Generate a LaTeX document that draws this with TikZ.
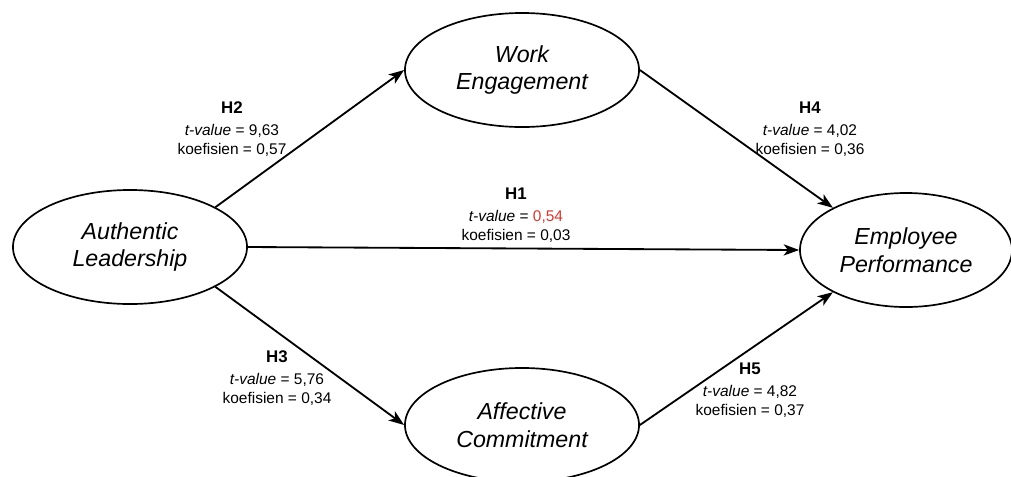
\documentclass[tikz,border=0pt]{standalone}
\usepackage{fontspec}
\setmainfont{Liberation Sans}
\definecolor{pathred}{RGB}{215,55,45}
\usetikzlibrary{arrows.meta,shapes.geometric}

\begin{document}
\begin{tikzpicture}[x=0.025cm,y=-0.025cm,
  construct/.style={draw,ellipse,line width=1.2pt,minimum width=5.85cm,minimum height=2.85cm,
    align=center,inner sep=1pt,font=\fontsize{16.5}{19.5}\selectfont\itshape},
  hyplabel/.style={align=center,inner sep=1pt,font=\fontsize{11}{13.5}\selectfont},
  pathline/.style={line width=1.3pt,-{Stealth[length=11pt,width=8pt,inset=3pt]}}
]
  \useasboundingbox (0,0) rectangle (1011,476);

  % latent constructs
  \node[construct] (al) at (130,247) {Authentic\\Leadership};
  \node[construct] (we) at (522,70) {Work\\Engagement};
  \node[construct] (ac) at (522,425) {Affective\\Commitment};
  \node[construct,minimum width=5.3cm] (ep) at (906,250) {Employee\\Performance};

  % structural paths
  \draw[pathline] (al.25) -- (we.west);
  \draw[pathline] (al.-25) -- (ac.west);
  \draw[pathline] (al.east) -- (ep.west);
  \draw[pathline] (we.east) -- (ep.150);
  \draw[pathline] (ac.east) -- (ep.210);

  % hypothesis results
  \node[hyplabel] (lblh2) at (232,129) {{\fontsize{12}{14}\selectfont\bfseries H2}\\[2pt]
    \textit{t-value} = 9,63\\ koefisien = 0,57};
  \node[hyplabel] (lblh1) at (516,215) {{\fontsize{12}{14}\selectfont\bfseries H1}\\[2pt]
    \textit{t-value} = \textcolor{pathred}{0,54}\\ koefisien = 0,03};
  \node[hyplabel] (lblh4) at (810,129) {{\fontsize{12}{14}\selectfont\bfseries H4}\\[2pt]
    \textit{t-value} = 4,02\\ koefisien = 0,36};
  \node[hyplabel] (lblh3) at (277,378) {{\fontsize{12}{14}\selectfont\bfseries H3}\\[2pt]
    \textit{t-value} = 5,76\\ koefisien = 0,34};
  \node[hyplabel] (lblh5) at (750,390) {{\fontsize{12}{14}\selectfont\bfseries H5}\\[2pt]
    \textit{t-value} = 4,82\\ koefisien = 0,37};
\end{tikzpicture}
\end{document}
